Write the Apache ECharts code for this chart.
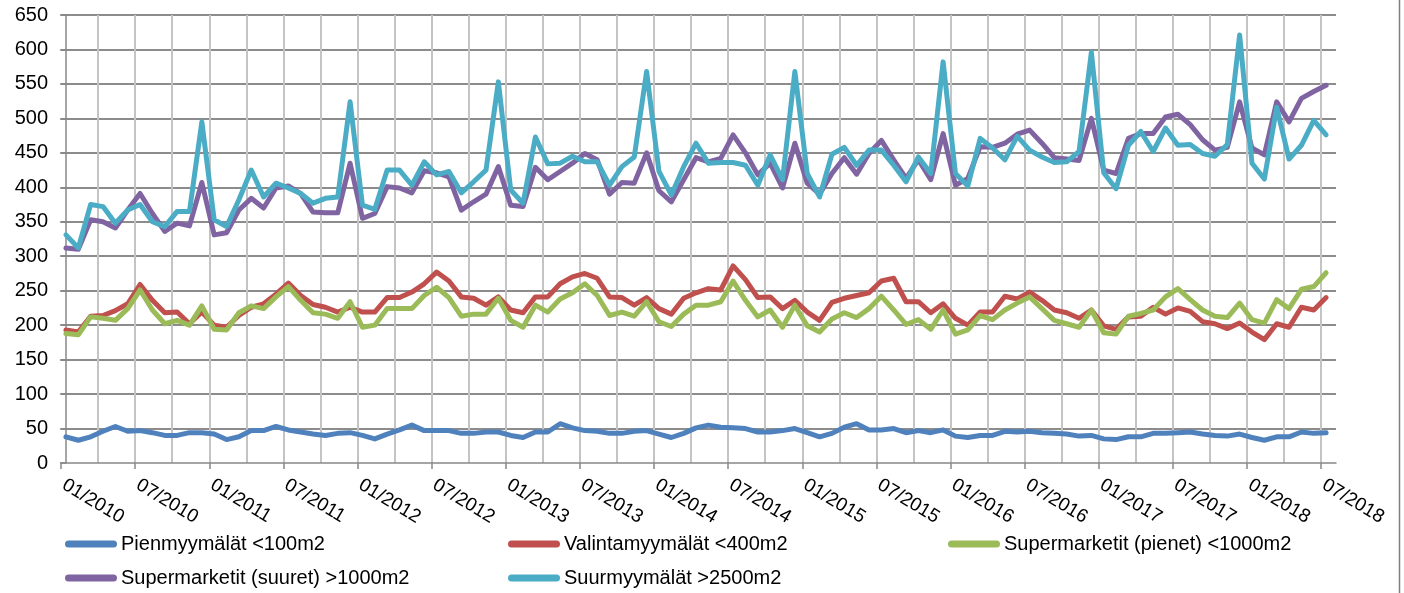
<!DOCTYPE html>
<html><head><meta charset="utf-8">
<script src="https://cdn.jsdelivr.net/npm/echarts@6/dist/echarts.min.js"></script>
<style>html,body{margin:0;padding:0;background:#fff}#c{width:1404px;height:593px}</style>
</head><body><div id="c"></div>
<script>
// Month index 0 = 01/2010 ... 102 = 07/2018
const tickLabels = ['01/2010','07/2010','01/2011','07/2011','01/2012','07/2012','01/2013','07/2013','01/2014','07/2014','01/2015','07/2015','01/2016','07/2016','01/2017','07/2017','01/2018','07/2018'];
const seriesNames = ['Pienmyymälät <100m2','Valintamyymälät <400m2','Supermarketit (pienet) <1000m2','Supermarketit (suuret) >1000m2','Suurmyymälät >2500m2'];

const pien = [38,33,38,46,53,46,47,44,40,40,44,44,42,34,38,47,47,53,48,45,42,
  40,43,44,40,35,42,48,55,47,47,47,43,43,45,45,40,37,45,45,57,51,
  47,46,43,43,46,47,42,37,43,51,55,52,51,50,45,45,47,50,44,38,43,
  52,57,48,48,50,44,47,44,48,39,37,40,40,46,45,46,44,43,42,39,40,
  35,34,38,38,43,43,44,45,42,40,39,42,37,33,38,38,45,43,44];
const valinta = [193,190,213,214,221,231,259,236,218,219,202,219,200,197,214,226,231,245,261,243,230,
  226,219,226,219,219,240,240,248,260,277,264,241,239,229,241,222,218,241,241,260,270,
  275,268,241,240,229,240,224,216,239,247,253,251,286,266,240,241,224,236,219,207,233,
  239,243,247,264,268,234,234,218,231,210,200,219,219,242,238,248,236,222,218,210,222,
  199,194,212,213,226,216,225,220,205,202,195,203,190,179,202,197,226,222,240];
const superPienet = [188,186,212,210,207,224,251,222,202,207,200,228,194,193,218,228,224,241,256,236,218,
  216,210,234,197,200,224,224,224,243,255,240,213,216,216,239,207,197,229,219,238,247,
  260,243,214,219,213,234,205,198,216,229,229,234,264,236,212,222,197,229,199,190,209,
  218,211,224,242,222,201,208,194,222,187,193,214,208,222,232,241,224,207,202,197,222,
  189,187,213,217,222,241,253,237,222,213,211,232,208,203,237,224,252,256,276];
const superSuuret = [312,310,353,350,341,367,391,362,336,348,344,407,331,334,367,384,370,399,402,391,364,
  363,363,435,355,362,401,399,392,424,421,415,367,379,390,430,374,372,429,411,423,435,
  449,440,390,407,406,450,395,379,411,443,437,442,476,450,418,435,399,464,406,390,420,
  443,419,449,468,440,413,440,411,478,403,413,459,458,464,477,483,464,443,441,439,500,
  425,420,471,478,478,502,506,491,469,454,458,524,457,447,524,495,529,539,548];
const suur = [331,312,375,372,348,367,375,350,343,365,365,495,353,343,382,425,386,406,399,391,377,
  384,386,524,374,368,425,425,403,437,418,423,392,408,425,553,396,377,473,434,435,445,
  437,437,403,430,444,568,423,389,430,464,435,436,436,432,403,447,411,568,420,386,448,
  458,432,454,454,432,408,444,420,582,420,402,471,457,440,474,454,444,436,437,452,596,
  421,398,461,481,452,486,461,462,449,445,462,621,435,412,516,441,461,497,476];

const allSeries = [pien, valinta, superPienet, superSuuret, suur];
const colors = ['#4F81BD','#C0504D','#9BBB59','#8064A2','#4BACC6'];
const FONT = '"Liberation Sans", Arial, sans-serif';
const XMIN = -0.4, XMAX = 102.8;

const legendPos = [[65,534],[508,534],[948,534],[65,568],[508,568]];

const chart = echarts.init(document.getElementById('c'), null, {renderer:'canvas'});
chart.setOption({
  animation: false,
  backgroundColor: '#fff',
  grid: {left: 61, right: 68, top: 15, bottom: 130, outerBoundsMode: 'none'},
  xAxis: [{
    type: 'value', min: XMIN, max: XMAX, interval: 3, position: 'bottom',
    axisLine: {show: true, onZero: false, lineStyle: {color: '#888', width: 1.5}},
    axisTick: {show: false}, axisLabel: {show: false},
    splitLine: {show: true, showMinLine: false, showMaxLine: false, lineStyle: {color: '#c4c4c4', width: 2}}
  }, {
    type: 'value', min: XMIN, max: XMAX, interval: 6, position: 'bottom',
    axisLine: {show: false},
    axisTick: {show: true, inside: false, length: 6, lineStyle: {color: '#888', width: 1.5}},
    splitLine: {show: false},
    axisLabel: {
      show: true, rotate: -31, margin: 19, fontSize: 19, color: '#000', fontFamily: FONT,
      showMaxLabel: false, showMinLabel: true, padding: [0, 0, 0, 3],
      formatter: function (v) {
        const idx = Math.round(v - XMIN);
        if (idx % 6 !== 0) return '';
        return tickLabels[idx / 6] || '';
      }
    }
  }],
  yAxis: {
    type: 'value', min: 0, max: 650, interval: 50,
    axisLine: {show: true, lineStyle: {color: '#888', width: 1.5}},
    axisTick: {show: true, inside: false, length: 6, lineStyle: {color: '#888', width: 1.5}},
    axisLabel: {fontSize: 20, color: '#000', fontFamily: FONT, margin: 13},
    splitLine: {show: true, showMinLine: false, lineStyle: {color: '#8c8c8c', width: 2}}
  },
  legend: seriesNames.map((n, k) => ({
    data: [n], left: legendPos[k][0], top: legendPos[k][1], padding: 0, itemGap: 0,
    itemWidth: 52, itemHeight: 7, selectedMode: false,
    icon: 'path://M3.5,0 H48.5 A3.5,3.5 0 0 1 48.5,7 H3.5 A3.5,3.5 0 0 1 3.5,0 Z',
    textStyle: {fontSize: 20, color: '#000', fontFamily: FONT, padding: [0, 0, 0, -1]}
  })),
  graphic: [{
    type: 'line', shape: {x1: 1399.5, y1: 0, x2: 1399.5, y2: 593},
    style: {stroke: '#7f7f7f', lineWidth: 1.5}, silent: true
  }],
  series: allSeries.map((arr, k) => ({
    name: seriesNames[k], type: 'line', xAxisIndex: 0,
    data: arr.map((v, i) => [i, v]),
    showSymbol: false, symbol: 'none', color: colors[k],
    lineStyle: {width: 5, color: colors[k], cap: 'round', join: 'round'},
    clip: false
  }))
});
</script></body></html>
